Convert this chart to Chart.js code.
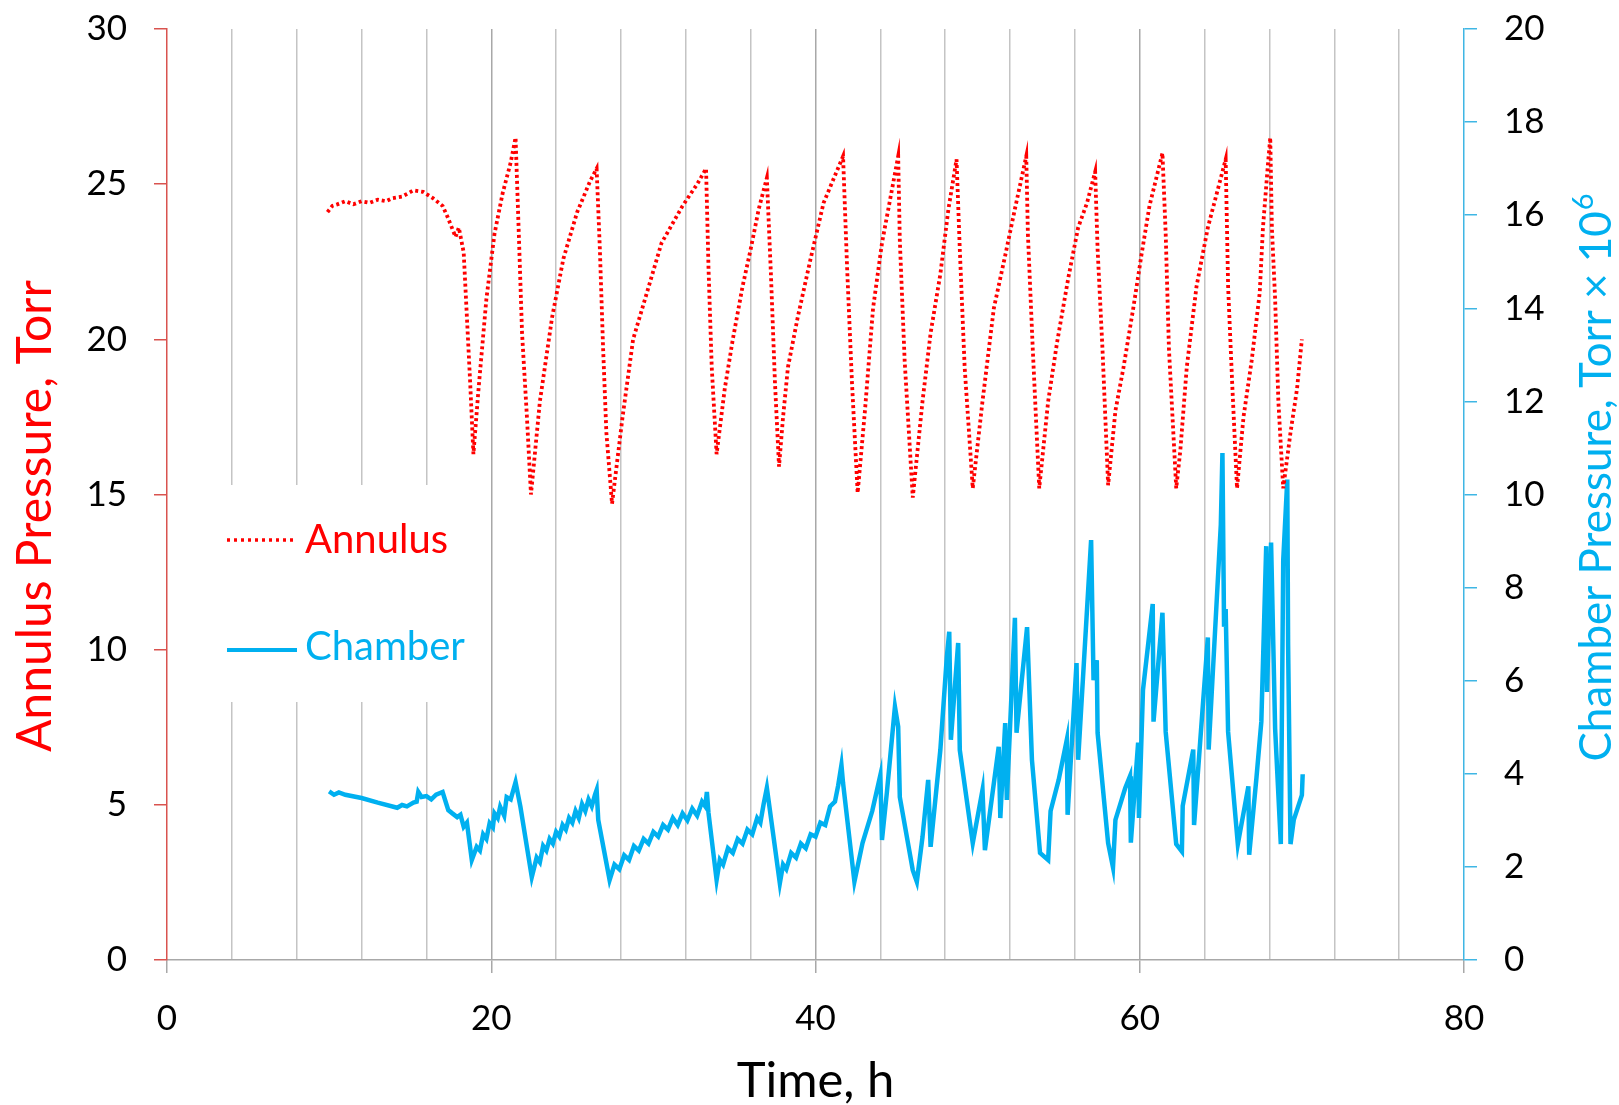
<!DOCTYPE html>
<html>
<head>
<meta charset="utf-8">
<title>Annulus and chamber pressure</title>
<script src="https://cdn.jsdelivr.net/npm/chart.js@4.4.0/dist/chart.umd.min.js"></script>
<style>
  html, body { margin: 0; padding: 0; background: #fff; }
  #wrap { width: 1619px; height: 1105px; }
</style>
</head>
<body>
<div id="wrap"><canvas id="pressureChart" width="1619" height="1105"></canvas></div>
<script>
// Annulus pressure (Torr) vs time (h)
const annulusTime = [
  9.9, 10.2, 10.5, 11.0, 11.5, 12.0, 12.5, 13.0, 13.5, 13.9, 14.5, 15.2, 15.8, 16.4, 17.0, 17.3, 17.8, 18.0, 18.3, 18.5, 18.7, 18.9,
  19.2, 19.7, 20.2, 20.7, 21.2, 21.5, 21.7, 21.9, 22.2, 22.45,
  23.0, 23.75, 24.45, 25.3, 26.1, 26.5, 26.7, 26.9, 27.1, 27.45,
  28.1, 28.75, 29.6, 30.5, 31.8, 32.7, 33.25, 33.4, 33.6, 33.9,
  34.4, 34.9, 35.5, 36.0, 36.5, 37.0, 37.25, 37.5, 37.75,
  38.0, 38.3, 38.9, 39.7, 40.5, 41.7, 41.95, 42.25, 42.6,
  43.05, 43.55, 44.1, 44.6, 45.1, 45.2, 45.5, 46.0,
  46.6, 47.1, 47.7, 48.2, 48.7, 48.9, 49.2, 49.7,
  50.3, 51.0, 51.7, 52.3, 53.0, 53.1, 53.4, 53.8,
  54.35, 54.9, 55.6, 56.2, 56.75, 57.25, 57.4, 57.7, 58.05,
  58.5, 59.0, 59.6, 60.1, 60.6, 61.4, 61.6, 61.8, 62.25,
  62.5, 62.9, 63.5, 64.2, 64.8, 65.3, 65.45, 65.7, 66.0,
  66.4, 66.9, 67.4, 67.6, 67.9, 68.05, 68.15, 68.35, 68.55, 68.85,
  69.3, 69.7, 70.0
];
const annulusPressure = [
  24.1, 24.3, 24.35, 24.45, 24.35, 24.45, 24.4, 24.5, 24.45, 24.55, 24.6, 24.8, 24.75, 24.55, 24.3, 23.95, 23.3, 23.6, 22.8, 20.7, 18.6, 16.3,
  18.3, 21.3, 23.4, 24.7, 25.7, 26.5, 23.4, 20.2, 17.5, 15.0,
  18.0, 20.7, 22.6, 24.1, 25.1, 25.5, 22.9, 19.7, 17.0, 14.7,
  17.5, 20.0, 21.5, 23.1, 24.3, 25.0, 25.5, 22.3, 19.1, 16.3,
  18.4, 20.0, 21.7, 22.9, 24.2, 25.2, 22.1, 18.6, 15.9,
  17.5, 19.1, 20.7, 22.6, 24.4, 25.9, 22.3, 18.6, 15.05,
  17.7, 21.0, 23.1, 24.5, 25.9, 23.2, 19.3, 14.9,
  18.0, 20.2, 22.1, 24.2, 25.8, 22.9, 19.1, 15.2,
  18.0, 21.0, 22.7, 24.2, 25.9, 23.4, 19.7, 15.2,
  18.0, 19.9, 22.0, 23.6, 24.4, 25.4, 22.9, 19.7, 15.3,
  17.7, 19.1, 21.0, 22.7, 24.3, 26.0, 23.4, 19.7, 15.2,
  16.4, 19.1, 21.7, 23.6, 24.8, 25.8, 21.7, 18.6, 15.2,
  17.5, 19.3, 21.5, 23.6, 25.6, 26.5, 23.6, 21.3, 18.0, 15.2,
  17.0, 18.4, 20.0
];

// Chamber pressure (Torr x 10^6) vs time (h)
const chamberTime = [
  10.0, 10.3, 10.6, 11.0, 12.0, 13.0, 14.2, 14.5, 14.8, 15.2, 15.4, 15.5, 15.7, 16.0, 16.3, 16.6, 17.0,
  17.35, 17.6, 17.9, 18.1, 18.3, 18.5, 18.8, 19.1, 19.3, 19.5, 19.7, 19.9, 20.1, 20.2, 20.4, 20.55,
  20.8, 20.95, 21.2, 21.5, 21.8, 22.5,
  22.8, 23.0, 23.2, 23.4, 23.6, 23.8, 24.0, 24.2, 24.4, 24.6, 24.8, 25.0, 25.2, 25.4, 25.6, 25.8,
  26.0, 26.2, 26.4, 26.5, 26.6, 27.3,
  27.6, 27.9, 28.2, 28.5, 28.8, 29.1, 29.4, 29.7, 30.0, 30.3, 30.6, 30.9, 31.2, 31.5, 31.8, 32.1,
  32.4, 32.7, 33.0, 33.2, 33.3, 33.4, 33.9,
  34.1, 34.3, 34.6, 34.9, 35.2, 35.5, 35.8, 36.1, 36.4, 36.6, 36.8, 37.0, 37.8,
  38.0, 38.2, 38.5, 38.8, 39.1, 39.4, 39.7, 40.0, 40.3, 40.6, 40.9, 41.2, 41.4, 41.6, 41.7, 42.4,
  42.9, 43.5, 44.0, 44.1, 44.4, 44.9, 45.1, 45.2, 46.0, 46.25,
  46.6, 46.95, 47.1, 47.7, 48.1, 48.25, 48.35, 48.8, 48.9, 49.7,
  50.3, 50.45, 51.3, 51.4, 51.7, 51.8, 52.3, 52.4, 53.05, 53.35, 53.85,
  54.35, 54.5, 55.0, 55.5, 55.55, 56.1, 56.2, 57.0, 57.15, 57.35, 57.4, 58.05,
  58.35, 58.5, 59.1, 59.4, 59.45, 59.9, 59.95, 60.2, 60.8, 60.85, 61.4, 61.6, 62.25,
  62.6, 62.65, 63.3, 63.35, 64.2, 64.25, 65.0, 65.1, 65.2, 65.3, 65.45, 66.05,
  66.7, 66.75, 67.2, 67.5, 67.8, 67.85, 68.1, 68.35, 68.7,
  68.85, 69.1, 69.15, 69.3, 69.5, 70.0, 70.05
];
const chamberPressure = [
  3.62, 3.55, 3.60, 3.55, 3.48, 3.38, 3.27, 3.33, 3.30, 3.38, 3.40, 3.61, 3.50, 3.52, 3.45, 3.55, 3.61,
  3.22, 3.15, 3.07, 3.12, 2.86, 2.95, 2.15, 2.43, 2.35, 2.70, 2.60, 2.94, 2.85, 3.15, 3.05, 3.29,
  3.10, 3.50, 3.45, 3.82, 3.29, 1.78,
  2.20, 2.10, 2.45, 2.35, 2.60, 2.50, 2.75, 2.65, 2.90, 2.80, 3.05, 2.95, 3.20, 3.05, 3.35, 3.20,
  3.45, 3.30, 3.55, 3.65, 3.01, 1.72,
  2.05, 1.95, 2.25, 2.15, 2.45, 2.35, 2.60, 2.50, 2.75, 2.65, 2.90, 2.80, 3.05, 2.90, 3.15, 3.00,
  3.25, 3.10, 3.40, 3.30, 3.61, 3.16, 1.72,
  2.15, 2.05, 2.40, 2.30, 2.60, 2.50, 2.80, 2.70, 3.05, 2.95, 3.35, 3.70, 1.65,
  2.05, 1.95, 2.30, 2.20, 2.50, 2.40, 2.70, 2.65, 2.95, 2.90, 3.30, 3.40, 3.75, 4.19, 3.80, 1.68,
  2.51, 3.20, 3.97, 2.58, 3.59, 5.44, 5.01, 3.50, 1.93, 1.68,
  2.64, 3.87, 2.43, 4.51, 6.51, 7.05, 4.73, 6.81, 4.51, 2.51,
  3.65, 2.36, 4.58, 3.05, 5.09, 3.44, 7.35, 4.88, 7.15, 4.30, 2.30,
  2.15, 3.20, 3.87, 4.73, 3.12, 6.38, 4.30, 9.02, 6.01, 6.44, 4.88, 2.51,
  1.99, 3.01, 3.69, 3.95, 2.52, 4.67, 3.05, 5.80, 7.65, 5.12, 7.46, 4.90, 2.49,
  2.33, 3.31, 4.52, 2.90, 6.93, 4.52, 9.35, 10.89, 7.16, 7.54, 4.90, 2.49,
  3.73, 2.26, 3.92, 5.12, 8.89, 5.76, 8.97, 4.97, 2.49,
  8.59, 10.32, 6.78, 2.49, 3.01, 3.54, 3.99
];

// Axis ticks
const timeLabels = [0, 20, 40, 60, 80];
const annulusTicks = [0, 5, 10, 15, 20, 25, 30];
const chamberTicks = [0, 2, 4, 6, 8, 10, 12, 14, 16, 18, 20];

const FONT = 'Lato, "Open Sans", sans-serif';
const RED = '#ff0000';
const BLUE = '#00b0f0';
const RED_AXIS = '#d9534f';
const BLUE_AXIS = '#3fb6e4';
const GRID = '#c4c4c4';
const GRID_MAJOR = '#a8a8a8';

const toPoints = (xs, ys) => xs.map((x, i) => ({ x: x, y: ys[i] }));

// fixed axis boxes so the plot area lands at the same place every time
const fixWidth = (w) => (scale) => {
  scale.width = w;
  scale.paddingTop = 0;
  scale.paddingBottom = 0;
};

// white box behind the legend, painted over the grid lines
const legendBackground = {
  id: 'legendBackground',
  beforeDatasetsDraw(chart) {
    const ctx = chart.ctx;
    ctx.save();
    ctx.fillStyle = '#ffffff';
    ctx.fillRect(170, 485, 300, 217);
    ctx.restore();
  }
};

// legend entries and axis titles
const labels = {
  id: 'labels',
  afterDraw(chart) {
    const ctx = chart.ctx;
    const area = chart.chartArea;
    ctx.save();

    // legend
    ctx.font = '40px ' + FONT;
    ctx.textBaseline = 'middle';
    ctx.textAlign = 'left';

    ctx.strokeStyle = RED;
    ctx.lineWidth = 3.5;
    ctx.setLineDash([3, 4]);
    ctx.beginPath();
    ctx.moveTo(227, 540);
    ctx.lineTo(296, 540);
    ctx.stroke();
    ctx.fillStyle = RED;
    ctx.fillText('Annulus', 305, 540);

    ctx.setLineDash([]);
    ctx.strokeStyle = BLUE;
    ctx.lineWidth = 4;
    ctx.beginPath();
    ctx.moveTo(227, 650);
    ctx.lineTo(297, 650);
    ctx.stroke();
    ctx.fillStyle = BLUE;
    ctx.fillText('Chamber', 305, 647);

    // x title
    ctx.fillStyle = '#000000';
    ctx.textAlign = 'center';
    ctx.font = '49px ' + FONT;
    ctx.fillText('Time, h', (area.left + area.right) / 2, 1081);

    // left title
    ctx.save();
    ctx.translate(36, 516);
    ctx.rotate(-Math.PI / 2);
    ctx.font = '48px ' + FONT;
    ctx.fillStyle = RED;
    ctx.fillText('Annulus Pressure, Torr', 0, 0);
    ctx.restore();

    // right title, reads bottom to top, with a superscript exponent
    const main = 'Chamber Pressure, Torr \u00d7 10';
    ctx.font = '44px ' + FONT;
    const wMain = ctx.measureText(main).width;
    ctx.font = '29px ' + FONT;
    const wSup = ctx.measureText('6').width;
    ctx.save();
    ctx.translate(1597, 478);
    ctx.rotate(-Math.PI / 2);
    ctx.fillStyle = BLUE;
    ctx.textAlign = 'left';
    const start = -(wMain + wSup) / 2;
    ctx.font = '44px ' + FONT;
    ctx.fillText(main, start, 0);
    ctx.font = '29px ' + FONT;
    ctx.fillText('6', start + wMain + 1, -13);
    ctx.restore();

    ctx.restore();
  }
};

const tickFont = { family: FONT, size: 35 };

new Chart(document.getElementById('pressureChart'), {
  type: 'line',
  data: {
    datasets: [
      {
        label: 'Annulus',
        data: toPoints(annulusTime, annulusPressure),
        yAxisID: 'y',
        borderColor: RED,
        borderWidth: 3.8,
        borderDash: [3, 3],
        pointRadius: 0,
        tension: 0,
        fill: false
      },
      {
        label: 'Chamber',
        data: toPoints(chamberTime, chamberPressure),
        yAxisID: 'y1',
        borderColor: BLUE,
        borderWidth: 4.5,
        pointRadius: 0,
        tension: 0,
        fill: false
      }
    ]
  },
  options: {
    responsive: false,
    animation: false,
    devicePixelRatio: 1,
    layout: { padding: { top: 29, left: 0, right: 0, bottom: 0 } },
    plugins: {
      legend: { display: false },
      tooltip: { enabled: false }
    },
    scales: {
      x: {
        type: 'linear',
        min: 0,
        max: 80,
        afterFit: (scale) => {
          scale.height = 145;
          scale.paddingLeft = 0;
          scale.paddingRight = 0;
        },
        ticks: {
          stepSize: 4,
          autoSkip: false,
          maxRotation: 0,
          padding: 25,
          color: '#000000',
          font: tickFont,
          callback: (v) => timeLabels.includes(v) ? v : ''
        },
        grid: {
          tickLength: 13,
          lineWidth: 1.5,
          color: (c) => {
            const v = c.tick ? c.tick.value : null;
            if (v === 0 || v === 80) return 'rgba(0,0,0,0)';
            return v % 20 === 0 ? GRID_MAJOR : GRID;
          },
          tickColor: (c) => (c.tick && c.tick.value % 20 === 0) ? GRID_MAJOR : 'rgba(0,0,0,0)'
        },
        border: { color: GRID_MAJOR, width: 1.5 }
      },
      y: {
        type: 'linear',
        position: 'left',
        min: 0,
        max: 30,
        afterFit: fixWidth(167),
        afterBuildTicks: (scale) => { scale.ticks = annulusTicks.map(v => ({ value: v })); },
        ticks: { padding: 27, color: '#000000', font: tickFont },
        grid: { drawOnChartArea: false, tickLength: 13, color: RED_AXIS, lineWidth: 1.5 },
        border: { color: RED_AXIS, width: 1.5 }
      },
      y1: {
        type: 'linear',
        position: 'right',
        min: 0,
        max: 20,
        afterFit: fixWidth(155),
        afterBuildTicks: (scale) => { scale.ticks = chamberTicks.map(v => ({ value: v })); },
        ticks: { padding: 27, color: '#000000', font: tickFont },
        grid: { drawOnChartArea: false, tickLength: 13, color: BLUE_AXIS, lineWidth: 1.5 },
        border: { color: BLUE_AXIS, width: 1.5 }
      }
    }
  },
  plugins: [legendBackground, labels]
});
</script>
</body>
</html>
